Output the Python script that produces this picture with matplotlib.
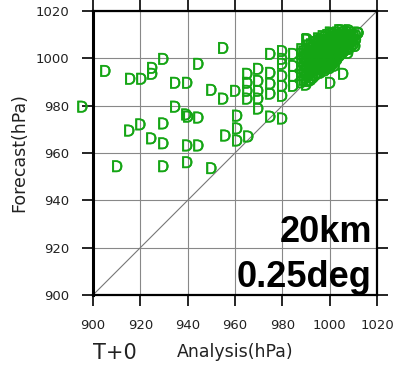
import matplotlib
matplotlib.use("Agg")
import matplotlib.pyplot as plt
import matplotlib.patheffects as pe

# scattered low-pressure cases (analysis, forecast) in hPa
ana_outer = [895.4, 905.1, 915.6, 920.3, 924.9, 924.9, 929.6, 934.6, 939.7, 944.4,
             954.9, 934.6, 939.3, 940.1, 944.4, 915.2, 919.9, 929.6, 924.5, 929.6,
             910.1, 929.6, 939.7, 944.4, 939.7, 949.9]
fcst_outer = [979.7, 994.8, 991.5, 991.5, 996.1, 993.6, 999.9, 989.8, 989.8, 997.8,
              1004.5, 979.7, 976.4, 975.5, 975.1, 969.6, 972.2, 972.6, 966.3, 964.2,
              954.5, 954.5, 963.3, 963.3, 956.2, 953.7]

# mid-range cases
ana_mid = [974.8, 979.8, 979.8, 984.5, 979.8,
           965.1, 969.7, 974.8, 984.5,
           965.1, 969.7, 974.8, 979.8, 984.5,
           965.1, 969.7, 974.8, 979.8, 984.5,
           965.1, 969.7, 979.8, 969.7,
           960.0, 954.9, 949.9, 960.8, 974.8, 979.8,
           955.8, 960.8, 960.8, 965.5]
fcst_mid = [1002.0, 1003.2, 999.9, 1002.0, 997.8,
            993.6, 995.7, 994.0, 996.9,
            989.8, 990.6, 989.4, 992.7, 992.7,
            986.4, 986.4, 985.2, 988.5, 988.5,
            983.1, 983.1, 984.3, 978.9,
            986.4, 983.1, 986.8, 975.9, 975.5, 974.7,
            967.5, 970.5, 965.4, 967.1]

# dense group near the diagonal: analysis -> forecasts
core = {
    988: [990, 993, 996, 999, 1002, 1004],
    989: [991, 994.5, 997.5, 1000.5, 1003],
    990: [989, 992, 995, 998, 1001, 1004, 1008],
    991: [990.5, 993.5, 996.5, 999.5, 1002.5, 1005.5],
    992: [991, 994, 997, 1000, 1003, 1006],
    993: [992, 995.5, 998.5, 1001.5, 1004.5, 1007],
    994: [993, 995, 998, 1000, 1002, 1005, 1007],
    995: [994, 997, 999, 1001, 1003.5, 1006, 1008.5],
    996: [994, 996, 998, 1000, 1002, 1004, 1006, 1008],
    997: [995.5, 997.5, 999.5, 1001.5, 1003.5, 1005.5, 1007.5, 1009.5],
    998: [995, 997, 999, 1001, 1003, 1005, 1007, 1009],
    999: [996.5, 998.5, 1000.5, 1002, 1004, 1006, 1008, 1010],
    1000: [996, 998, 1000, 1001, 1003, 1005, 1007, 1009, 1011],
    1001: [997.5, 999.5, 1001, 1002.5, 1004.5, 1006.5, 1008.5, 1010.5],
    1002: [997, 999, 1001, 1002, 1004, 1006, 1008, 1010],
    1003: [999.5, 1001.5, 1003, 1005, 1007, 1009, 1011],
    1004: [1001, 1003, 1005, 1006, 1008, 1010, 1012],
    1005: [1002, 1004, 1006, 1008, 1010, 1012],
    1006: [1003, 1005, 1007, 1009, 1011],
    1007: [1004, 1006, 1008, 1010, 1011.5],
    1008: [1004, 1006, 1008, 1010, 1012],
    1009: [1005, 1007, 1009, 1011],
    1010: [1006, 1008, 1010],
    1011: [1008, 1010],
    1012: [1011],
}
ana_core = [a for a, fs in core.items() for f in fs]
fcst_core = [f for a, fs in core.items() for f in fs]

# points around the edges of the group
ana_low = [1005.6, 1000.1, 1001.4, 1007.7, 1010.7, 1012.0, 995.1, 990.4]
fcst_low = [993.6, 989.8, 997.8, 1002.4, 1005.3, 1010.8, 1007.4, 1008.3]

analysis = ana_outer + ana_mid + ana_core + ana_low
forecast = fcst_outer + fcst_mid + fcst_core + fcst_low

ticks = [900, 920, 940, 960, 980, 1000, 1020]

plt.rcParams['font.family'] = ['DejaVu Sans']

fig = plt.figure(figsize=(3.99, 3.65), dpi=100)
ax = fig.add_axes([93 / 399, 70 / 365, 284 / 399, 284 / 365])
ax.set_xlim(900, 1020)
ax.set_ylim(900, 1020)
ax.set_xticks(ticks)
ax.set_yticks(ticks)
ax.grid(True, color='#888888', linewidth=0.8)
ax.set_axisbelow(True)
ax.plot([900, 1020], [900, 1020], color='#777777', linewidth=0.8, zorder=2)

green = '#14a514'
for a, f in zip(analysis, forecast):
    ax.text(a, f, 'D', color=green, fontsize=12, ha='center',
            va='center_baseline', family='Liberation Sans', clip_on=False, zorder=3,
            path_effects=[pe.withStroke(linewidth=0.35, foreground=green)])

for s in ax.spines.values():
    s.set_linewidth(1.6)
ax.spines['left'].set_linewidth(2.2)
ax.tick_params(direction='out', length=8, width=1.2, pad=9, labelsize=9.5,
               labelcolor='#222222', top=True, right=True)

ax.set_xlabel('Analysis(hPa)', fontsize=12.5, color='#222222', labelpad=8)
ax.set_ylabel('Forecast(hPa)', fontsize=12.5, color='#222222', labelpad=5)
fig.text(93 / 399, 6 / 365, 'T+0', fontsize=15, color='#222222', ha='left', va='baseline')

ax.text(0.982, 0.185, '20km', transform=ax.transAxes, ha='right', va='baseline',
        fontsize=26, fontweight='bold', family='Liberation Sans', zorder=4)
ax.text(0.982, 0.028, '0.25deg', transform=ax.transAxes, ha='right', va='baseline',
        fontsize=26, fontweight='bold', family='Liberation Sans', zorder=4)

fig.savefig('out.png', dpi=100)
